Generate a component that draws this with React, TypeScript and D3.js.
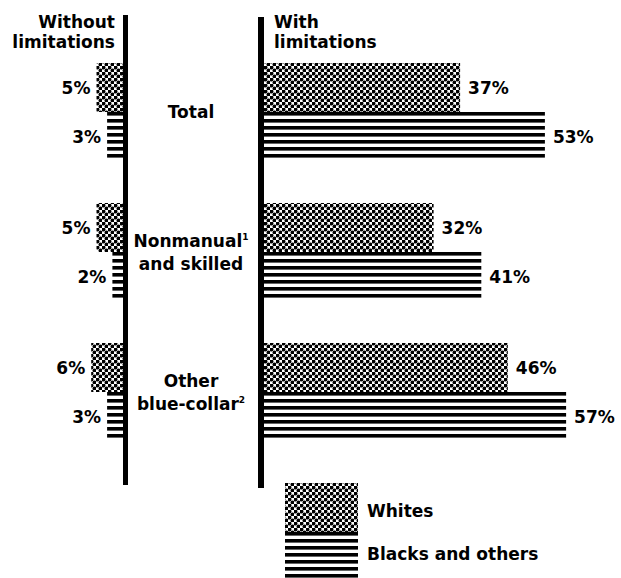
import React from 'react';
import * as d3 from 'd3';

const categories = ['Total', 'Nonmanual and skilled', 'Other blue-collar'];
const categoryLines = [['Total'], ['Nonmanual', 'and skilled'], ['Other', 'blue-collar']];
const categoryNotes = ['', '1', '2'];
const series = ['Whites', 'Blacks and others'];
const withoutWhites = [5, 5, 6];
const withoutBlacks = [3, 2, 3];
const withWhites = [37, 32, 46];
const withBlacks = [53, 41, 57];

const W = 621;
const H = 578;
const FONT = '"DejaVu Sans", sans-serif';

const App = () => {
    // group bands and the two bars inside each group
    const y = d3.scaleBand().domain(categories).range([63, 441]).paddingInner(0.3).paddingOuter(0);
    const yInner = d3.scaleBand().domain(series).range([0, y.bandwidth()]).padding(0);
    const bh = yInner.bandwidth();

    const xRight = d3.scaleLinear().domain([0, 60]).range([264, 264 + 318]);
    const xLeft = d3.scaleLinear().domain([0, 60]).range([123, 123 - 318]);

    const rows = categories.map((c, i) => ({
        cat: c,
        vals: [
            { s: series[0], left: withoutWhites[i], right: withWhites[i] },
            { s: series[1], left: withoutBlacks[i], right: withBlacks[i] },
        ],
    }));

    const stripeDef = (id, top) => (
        <pattern key={id} id={id} patternUnits="userSpaceOnUse" x={0} y={top} width={8} height={7}>
            <rect x={0} y={0} width={8} height={3.6} fill="#000" />
        </pattern>
    );

    const legendTop = 483;

    return (
        <div style={{ position: 'fixed', left: 0, top: 0 }}>
            <svg width={W} height={H} style={{ display: 'block', background: '#fff' }} fontFamily={FONT} fontWeight="bold">
                <defs>
                    <pattern id="dots" patternUnits="userSpaceOnUse" width={6} height={6}>
                        <rect width={6} height={6} fill="#fff" />
                        <circle cx={1.5} cy={1.5} r={1.95} fill="#000" />
                        <circle cx={4.5} cy={4.5} r={1.95} fill="#000" />
                    </pattern>
                    {categories.map((c, i) => stripeDef(`stripes${i}`, (y(c) ?? 0) + (yInner(series[1]) ?? 0)))}
                    {stripeDef('stripesLegend', legendTop + bh)}
                </defs>

                {/* headers */}
                <text x={115} y={28} textAnchor="end" fontSize={17}>Without</text>
                <text x={115} y={48} textAnchor="end" fontSize={17}>limitations</text>
                <text x={274} y={28} textAnchor="start" fontSize={17}>With</text>
                <text x={274} y={48} textAnchor="start" fontSize={17}>limitations</text>

                {rows.map((r, i) => {
                    const gy = y(r.cat) ?? 0;
                    const mid = gy + y.bandwidth() / 2;
                    const lines = categoryLines[i];
                    const offs = lines.length === 1 ? [6] : [-5, 18];
                    // footnote mark goes after the first line for nonmanual, the second for blue-collar
                    const noteLine = i === 1 ? 0 : 1;
                    return (
                        <g key={r.cat}>
                            {r.vals.map((v, j) => {
                                const by = gy + (yInner(v.s) ?? 0);
                                const fill = j === 0 ? 'url(#dots)' : `url(#stripes${i})`;
                                return (
                                    <g key={v.s}>
                                        <rect x={xLeft(v.left)} y={by} width={xLeft(0) - xLeft(v.left)} height={bh} fill={fill} />
                                        <rect x={xRight(0)} y={by} width={xRight(v.right) - xRight(0)} height={bh} fill={fill} />
                                        <text x={xLeft(v.left) - 6} y={by + bh / 2 + 6.5} textAnchor="end" fontSize={17}>{v.left}%</text>
                                        <text x={xRight(v.right) + 8} y={by + bh / 2 + 6.5} textAnchor="start" fontSize={17}>{v.right}%</text>
                                    </g>
                                );
                            })}
                            {lines.map((ln, k) => (
                                <text key={ln} x={191} y={mid + offs[k]} textAnchor="middle" fontSize={17}>
                                    {ln}
                                    {categoryNotes[i] && k === noteLine ? (
                                        <tspan fontSize={9} dy={-7}>{categoryNotes[i]}</tspan>
                                    ) : null}
                                </text>
                            ))}
                        </g>
                    );
                })}

                {/* axis lines */}
                <line x1={125.5} x2={125.5} y1={15} y2={485} stroke="#000" strokeWidth={5} />
                <line x1={261} x2={261} y1={17} y2={488} stroke="#000" strokeWidth={6} />

                {/* legend */}
                <rect x={285} y={legendTop} width={73} height={bh} fill="url(#dots)" />
                <rect x={285} y={legendTop + bh} width={73} height={bh} fill="url(#stripesLegend)" />
                <text x={367} y={517} fontSize={17}>{series[0]}</text>
                <text x={367} y={560} fontSize={17}>{series[1]}</text>
            </svg>
        </div>
    );
};

export default App;
